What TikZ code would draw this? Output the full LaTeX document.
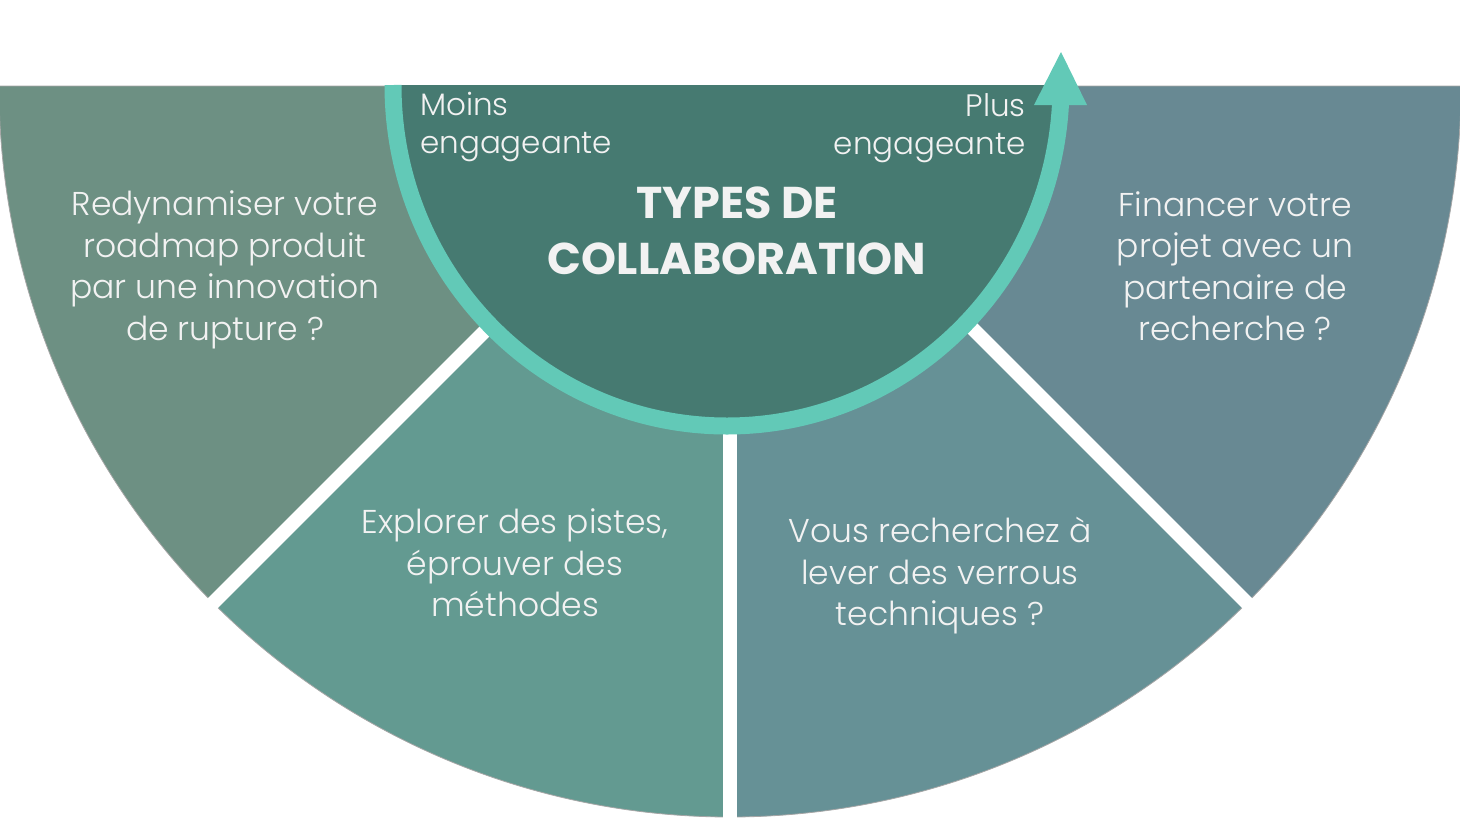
\documentclass[tikz,border=0pt]{standalone}
\usepackage{fontspec}
\setmainfont{Poppins}[UprightFont={* Light}, BoldFont={* Bold}]
\definecolor{secL}{RGB}{109,144,131}
\definecolor{secBL}{RGB}{99,154,145}
\definecolor{secBR}{RGB}{102,145,150}
\definecolor{secR}{RGB}{104,137,147}
\definecolor{darkc}{RGB}{70,122,113}
\definecolor{ringc}{RGB}{98,201,183}
\definecolor{txt}{RGB}{242,242,242}
\tikzset{
  sector/.style={draw=black!35, line width=0.8},
  gapline/.style={draw=white, line width=14},
  body/.style={text=txt, align=center, font=\fontsize{33}{41.5}\selectfont, inner sep=0},
  small/.style={text=txt, font=\fontsize{31}{38.5}\selectfont, inner sep=0},
  title/.style={text=txt, align=center, font=\bfseries\fontsize{44.5}{56}\selectfont, inner sep=0}
}
\begin{document}
\begin{tikzpicture}[x=1pt,y=-1pt]
\useasboundingbox (0,0) rectangle (1460,820);
\coordinate (c) at (730,86);
% sectors
\fill[secL,sector] (c) -- ++(180:731) arc[start angle=180,end angle=135,radius=731] -- cycle;
\fill[secBL,sector] (c) -- ++(135:731) arc[start angle=135,end angle=90,radius=731] -- cycle;
\fill[secBR,sector] (c) -- ++(90:731) arc[start angle=90,end angle=45,radius=731] -- cycle;
\fill[secR,sector] (c) -- ++(45:731) arc[start angle=45,end angle=0,radius=731] -- cycle;
% gaps
\draw[gapline] (c) -- ++(135:745);
\draw[gapline] (c) -- ++(90:745);
\draw[gapline] (c) -- ++(45:745);
% centre
\coordinate (rs) at (393,85);
\fill[darkc] (rs) arc[start angle=180,end angle=0,x radius=334,y radius=341] -- cycle;
\draw[ringc, line width=17] (rs) arc[start angle=180,end angle=0,x radius=334,y radius=341] coordinate (re);
\coordinate (tip) at (1061,52);
\fill[ringc] (1034,105) -- (1087,105) -- (tip) -- cycle;
% texts
\node[body] (t1) at (225,270) {Redynamiser votre\\roadmap produit\\par une innovation\\de rupture ?};
\node[body] (t2) at (515,563) {Explorer des pistes,\\éprouver des\\méthodes};
\node[body] (t3) at (940,576) {Vous recherchez à\\lever des verrous\\techniques ?};
\node[body] (t4) at (1235,266) {Financer votre\\projet avec un\\partenaire de\\recherche ?};
\node[title] (tt) at (737,231) {TYPES DE\\COLLABORATION};
\node[small, anchor=west, align=left] (moins) at (420,127) {Moins\\engageante};
\node[small, anchor=east, align=right] (plus) at (1026,128) {Plus\\engageante};
\end{tikzpicture}
\end{document}
